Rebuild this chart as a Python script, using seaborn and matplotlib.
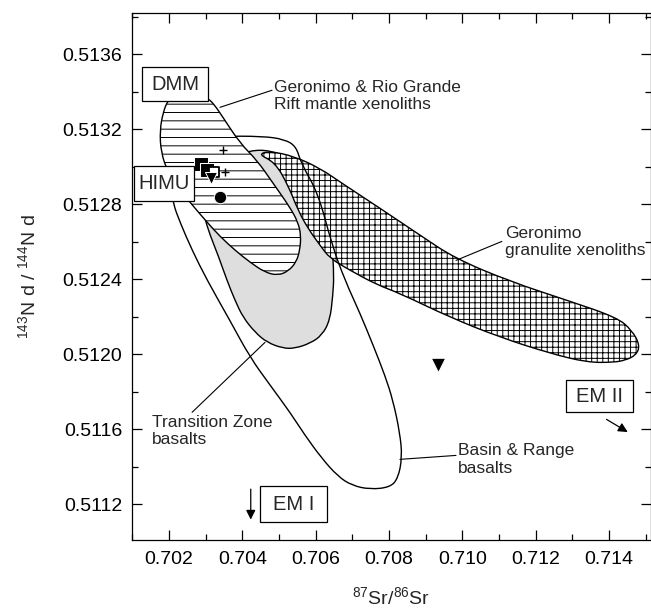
import numpy as np
import pandas as pd
import seaborn as sns
import matplotlib.pyplot as plt
from matplotlib.path import Path
from matplotlib.patches import PathPatch, Rectangle
from matplotlib.ticker import MultipleLocator, FormatStrFormatter

# Outlines of the fields (87Sr/86Sr, 143Nd/144Nd)
rift_sr = [0.70216, 0.70271, 0.70306, 0.70323, 0.70347, 0.70394, 0.70440, 0.70484, 0.70530,
           0.70552, 0.70560, 0.70557, 0.70547, 0.70525, 0.70497, 0.70462, 0.70421, 0.70380,
           0.70339, 0.70304, 0.70271, 0.70230, 0.70197, 0.70178, 0.70175, 0.70184, 0.70197]
rift_nd = [0.513381, 0.513387, 0.513365, 0.513333, 0.513264, 0.513125, 0.513035, 0.512912, 0.512784,
           0.512704, 0.512635, 0.512555, 0.512491, 0.512443, 0.512421, 0.512437, 0.512491, 0.512555,
           0.512629, 0.512704, 0.512779, 0.512875, 0.512971, 0.513077, 0.513195, 0.513291, 0.513355]

tz_sr = [0.70293, 0.70326, 0.70366, 0.70421, 0.70476, 0.70530, 0.70571, 0.70607, 0.70631,
         0.70645, 0.70650, 0.70647, 0.70639, 0.70617, 0.70585, 0.70544, 0.70511, 0.70467,
         0.70435, 0.70402, 0.70380, 0.70358, 0.70334, 0.70312, 0.70295]
tz_nd = [0.512848, 0.512955, 0.513045, 0.513088, 0.513088, 0.513045, 0.512981, 0.512875, 0.512741,
         0.512581, 0.512421, 0.512315, 0.512181, 0.512101, 0.512059, 0.512032, 0.512032, 0.512064,
         0.512117, 0.512197, 0.512288, 0.512395, 0.512528, 0.512635, 0.512741]

gran_sr = [0.70443, 0.70476, 0.70541, 0.70612, 0.70672, 0.70784, 0.70885, 0.70980, 0.71130,
           0.71286, 0.71422, 0.71463, 0.71485, 0.71474, 0.71444, 0.71411, 0.71341, 0.71240,
           0.71103, 0.70967, 0.70830, 0.70765, 0.70694, 0.70639, 0.70612, 0.70579, 0.70552,
           0.70525, 0.70489]
gran_nd = [0.513067, 0.513083, 0.513056, 0.512992, 0.512912, 0.512768, 0.512635, 0.512512, 0.512389,
           0.512288, 0.512197, 0.512128, 0.512048, 0.511995, 0.511968, 0.511957, 0.511957, 0.512005,
           0.512091, 0.512197, 0.512325, 0.512373, 0.512448, 0.512512, 0.512581, 0.512672, 0.512768,
           0.512901, 0.513024]

br_sr = [0.70339, 0.70454, 0.70514, 0.70547, 0.70560, 0.70607, 0.70645, 0.70680, 0.70721,
         0.70757, 0.70789, 0.70811, 0.70830, 0.70836, 0.70825, 0.70803, 0.70748, 0.70699,
         0.70661, 0.70617, 0.70571, 0.70530, 0.70476, 0.70421, 0.70366, 0.70304, 0.70263,
         0.70230, 0.70211, 0.70205, 0.70208, 0.70219, 0.70244, 0.70285]
br_nd = [0.513163, 0.513163, 0.513147, 0.513109, 0.513019, 0.512859, 0.512581, 0.512395, 0.512219,
         0.512048, 0.511888, 0.511755, 0.511579, 0.511451, 0.511339, 0.511291, 0.511280, 0.511301,
         0.511349, 0.511445, 0.511568, 0.511691, 0.511835, 0.511984, 0.512181, 0.512395, 0.512555,
         0.512704, 0.512805, 0.512901, 0.512981, 0.513061, 0.513115, 0.513147]

# Samples
sample_group = ["sq", "sq", "osq", "tri", "circ", "plus", "plus", "bigtri"]
sample_sr = [0.70288, 0.70304, 0.70323, 0.70315, 0.70339, 0.70347, 0.70353, 0.70934]
sample_nd = [0.513013, 0.512981, 0.512971, 0.512939, 0.512837, 0.513088, 0.512971, 0.511941]

x_ticks = [0.702, 0.704, 0.706, 0.708, 0.710, 0.712, 0.714]
y_ticks = [0.5112, 0.5116, 0.5120, 0.5124, 0.5128, 0.5132, 0.5136]

sns.set_theme(style="ticks")
plt.rcParams["font.family"] = ["Liberation Sans", "DejaVu Sans"]
plt.rcParams["mathtext.fontset"] = "custom"
plt.rcParams["mathtext.rm"] = "Liberation Sans"
plt.rcParams["hatch.linewidth"] = 0.7


def smooth_patch(xs, ys, **kw):
    # closed smooth outline using the points as quadratic bezier controls
    pts = np.column_stack([xs, ys])
    mids = (pts + np.roll(pts, -1, axis=0)) / 2
    verts = [mids[-1]]
    codes = [Path.MOVETO]
    for p, m in zip(pts, mids):
        verts += [p, m]
        codes += [Path.CURVE3, Path.CURVE3]
    return PathPatch(Path(verts, codes), **kw)


fig = plt.figure(figsize=(6.51, 6.13), dpi=100)
ax = fig.add_axes([132 / 651, 73 / 613, 519 / 651, 527 / 613])

# Fields
ax.add_patch(smooth_patch(tz_sr, tz_nd, facecolor="#dedede", edgecolor="black", lw=1.0, zorder=1))
ax.add_patch(smooth_patch(gran_sr, gran_nd, facecolor="white", edgecolor="black", lw=1.0,
                          hatch="+++", zorder=2))
ax.add_patch(smooth_patch(br_sr, br_nd, facecolor="none", edgecolor="black", lw=1.0, zorder=3))
ax.add_patch(smooth_patch(rift_sr, rift_nd, facecolor="white", edgecolor="black", lw=1.0,
                          hatch="--", zorder=4))

# Samples
df = pd.DataFrame({"sr": sample_sr, "nd": sample_nd, "grp": sample_group})
styles = {
    "sq": dict(marker="s", s=90, color="black"),
    "osq": dict(marker="s", s=60, facecolor="white", edgecolor="black", linewidth=1.3),
    "tri": dict(marker="v", s=75, color="black"),
    "circ": dict(marker="o", s=80, color="black"),
    "plus": dict(marker="+", s=30, color="black", linewidth=1.0),
    "bigtri": dict(marker="v", s=110, color="black"),
}
for g, kw in styles.items():
    sns.scatterplot(data=df[df.grp == g], x="sr", y="nd", ax=ax, zorder=6, legend=False, **kw)

# End-member boxes
boxes = [("DMM", 0.70126, 0.513350, 0.70307, 0.513532),
         ("HIMU", 0.70104, 0.512816, 0.70268, 0.513003),
         ("EM I", 0.70448, 0.511104, 0.70631, 0.511296),
         ("EM II", 0.71283, 0.511691, 0.71466, 0.511861)]
for name, x0, y0, x1, y1 in boxes:
    ax.add_patch(Rectangle((x0, y0), x1 - x0, y1 - y0, facecolor="white", edgecolor="black",
                           lw=0.9, zorder=7, clip_on=False))
    ax.text((x0 + x1) / 2, (y0 + y1) / 2, name, ha="center", va="center", fontsize=14.5, zorder=8)

ax.annotate("", xy=(0.70423, 0.511104), xytext=(0.70423, 0.511296),
            arrowprops=dict(arrowstyle="-|>", color="black", lw=0.9, mutation_scale=14))
ax.annotate("", xy=(0.71458, 0.511578), xytext=(0.71387, 0.511661),
            arrowprops=dict(arrowstyle="-|>", color="black", lw=0.9, mutation_scale=14))

# Labels with leader lines
ax.text(0.70486, 0.513378, "Geronimo & Rio Grande\nRift mantle xenoliths", fontsize=12.5,
        va="center", ha="left", linespacing=1.2)
ax.plot([0.70339, 0.70481], [0.513317, 0.513408], color="black", lw=0.8, zorder=5)

ax.text(0.71118, 0.512600, "Geronimo\ngranulite xenoliths", fontsize=12.5,
        va="center", ha="left", linespacing=1.2)
ax.plot([0.70983, 0.71108], [0.512501, 0.512602], color="black", lw=0.8, zorder=5)

ax.text(0.70153, 0.511590, "Transition Zone\nbasalts", fontsize=12.5,
        va="center", ha="left", linespacing=1.2)
ax.plot([0.70263, 0.70462], [0.511691, 0.512064], color="black", lw=0.8, zorder=5)

ax.text(0.70989, 0.511440, "Basin & Range\nbasalts", fontsize=12.5,
        va="center", ha="left", linespacing=1.2)
ax.plot([0.70830, 0.70983], [0.511440, 0.511461], color="black", lw=0.8, zorder=5)

# Axes
ax.set_xlim(0.70099, 0.71515)
ax.set_ylim(0.51101, 0.51382)
ax.set_xticks(x_ticks)
ax.set_yticks(y_ticks)
ax.xaxis.set_major_formatter(FormatStrFormatter("%.3f"))
ax.yaxis.set_major_formatter(FormatStrFormatter("%.4f"))
ax.xaxis.set_minor_locator(MultipleLocator(0.001))
ax.yaxis.set_minor_locator(MultipleLocator(0.0002))
ax.tick_params(which="both", direction="in", top=True, right=True, width=0.9, colors="black",
               labelsize=14)
ax.tick_params(which="major", length=7.5)
ax.tick_params(which="minor", length=4)
ax.tick_params(axis="x", pad=8)
ax.tick_params(axis="y", pad=7)
for sp in ax.spines.values():
    sp.set_linewidth(0.9)
    sp.set_color("black")

ax.set_xlabel(r"$^{87}$Sr/$^{86}$Sr", fontsize=14, labelpad=13)
ax.set_ylabel(r"$^{143}$N d / $^{144}$N d", fontsize=14, labelpad=16)

plt.savefig("out.png", dpi=100)
